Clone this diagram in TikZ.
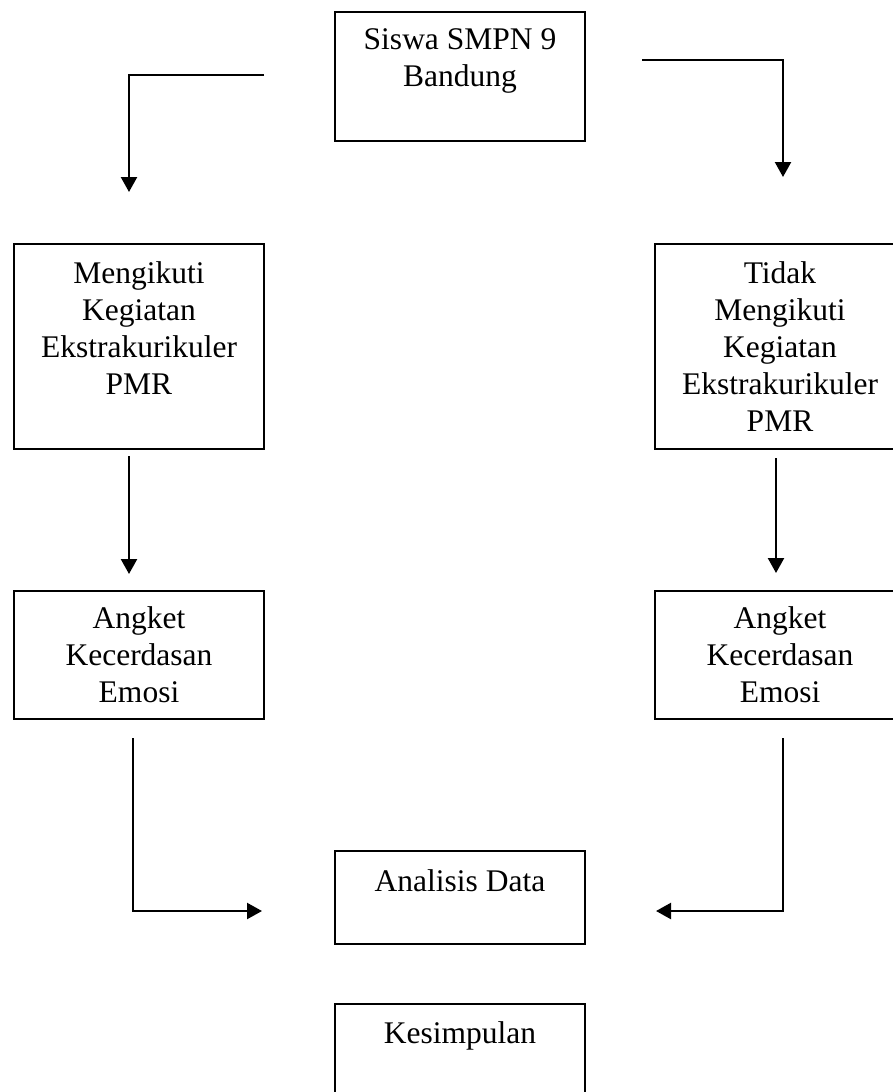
\documentclass[tikz,border=0pt]{standalone}
\usepackage{fontspec}
\setmainfont{Liberation Serif}
\usetikzlibrary{arrows.meta}
\begin{document}
\begin{tikzpicture}[x=1pt,y=-1pt,
  box/.style={draw, line width=2pt, rectangle, inner sep=0pt, anchor=north west},
  txt/.style={anchor=north, inner sep=0pt, align=center, font=\fontsize{31.5}{37}\selectfont},
  arr/.style={line width=2.3pt, -{Triangle[length=15pt,width=16pt]}}]
\useasboundingbox (0,0) rectangle (893,1092);
% boxes
\node[box, minimum width=250pt, minimum height=129pt] (siswa) at (334,11) {};
\node[box, minimum width=250pt, minimum height=205pt] (ikut) at (13,243) {};
\node[box, minimum width=250pt, minimum height=205pt] (tidak) at (654,243) {};
\node[box, minimum width=250pt, minimum height=128pt] (angket1) at (13,590) {};
\node[box, minimum width=250pt, minimum height=128pt] (angket2) at (654,590) {};
\node[box, minimum width=250pt, minimum height=93pt] (analisis) at (334,850) {};
\node[box, minimum width=250pt, minimum height=110pt] (kesimpulan) at (334,1003) {};
% texts
\node[txt] (siswaT) at ([yshift=-12pt]siswa.north) {\rule{0pt}{26pt}Siswa SMPN 9\\Bandung};
\node[txt] (ikutT) at ([yshift=-14pt]ikut.north) {\rule{0pt}{26pt}Mengikuti\\Kegiatan\\Ekstrakurikuler\\PMR};
\node[txt] (tidakT) at ([yshift=-14pt]tidak.north) {\rule{0pt}{26pt}Tidak\\Mengikuti\\Kegiatan\\Ekstrakurikuler\\PMR};
\node[txt] (angket1T) at ([yshift=-12pt]angket1.north) {\rule{0pt}{26pt}Angket\\Kecerdasan\\Emosi};
\node[txt] (angket2T) at ([yshift=-12pt]angket2.north) {\rule{0pt}{26pt}Angket\\Kecerdasan\\Emosi};
\node[txt] (analisisT) at ([yshift=-15pt]analisis.north) {\rule{0pt}{26pt}Analisis Data};
\node[txt] (kesimpulanT) at ([yshift=-14pt]kesimpulan.north) {\rule{0pt}{26pt}Kesimpulan};
% connector ends
\coordinate (a1s) at (264,75);
\coordinate (a1e) at (129,192);
\coordinate (a2s) at (642,60);
\coordinate (a2e) at (783,177);
\coordinate (b1s) at (129,456);
\coordinate (b1e) at (129,574);
\coordinate (b2s) at (776,458);
\coordinate (b2e) at (776,573);
\coordinate (c1s) at (133,738);
\coordinate (c1e) at (262,911);
\coordinate (c2s) at (783,738);
\coordinate (c2e) at (656,911);
% connectors
\draw[arr] (a1s) -| (a1e);
\draw[arr] (a2s) -| (a2e);
\draw[arr] (b1s) -- (b1e);
\draw[arr] (b2s) -- (b2e);
\draw[arr] (c1s) |- (c1e);
\draw[arr] (c2s) |- (c2e);
\end{tikzpicture}
\end{document}
